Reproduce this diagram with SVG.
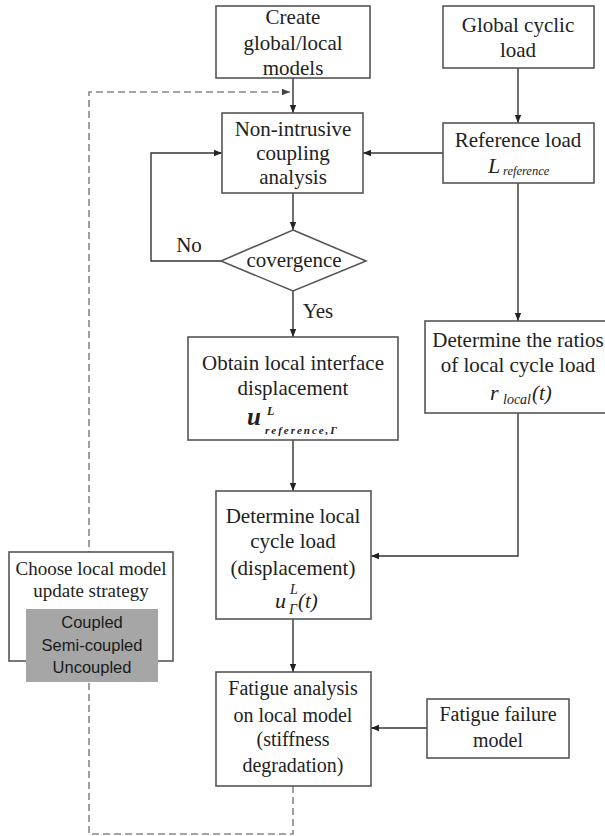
<svg xmlns="http://www.w3.org/2000/svg" width="605" height="836" viewBox="0 0 605 836">
<defs>
<marker id="ah" viewBox="0 0 10 10" refX="10" refY="5" markerWidth="8" markerHeight="8" markerUnits="userSpaceOnUse" orient="auto"><path d="M0,1 L10,5 L0,9 Z" fill="#222"/></marker>
<marker id="ahd" viewBox="0 0 10 10" refX="10" refY="5" markerWidth="8" markerHeight="8" markerUnits="userSpaceOnUse" orient="auto"><path d="M0,1 L10,5 L0,9 Z" fill="#444"/></marker>
<style>
.box{fill:#fff;stroke:#555;stroke-width:1.6}
.t{font-family:'Liberation Serif','Times New Roman',Tinos,'DejaVu Serif',serif;font-size:21px;fill:#222;text-anchor:middle}
.t2{font-family:'Liberation Serif','Times New Roman',Tinos,'DejaVu Serif',serif;font-size:20px;fill:#222;text-anchor:middle}
.it{font-family:'Liberation Serif','Times New Roman',Tinos,'DejaVu Serif',serif;font-style:italic;fill:#222}
.c{fill:none;stroke:#333;stroke-width:1.4}
.d{fill:none;stroke:#888;stroke-width:1.6;stroke-dasharray:7,4}
.g{font-family:'Liberation Sans',Arial,sans-serif;font-size:16.5px;fill:#1a1a1a;text-anchor:middle}
</style>
</defs>
<rect width="605" height="836" fill="#fff"/>
<g id="connectors">
<path class="d" d="M293,786 V834 H89 V92 H290" marker-end="url(#ahd)"/>
<path class="c" d="M293,78 V113" marker-end="url(#ah)"/>
<path class="c" d="M518,68 V123" marker-end="url(#ah)"/>
<path class="c" d="M443,153 H363" marker-end="url(#ah)"/>
<path class="c" d="M293,193 V230" marker-end="url(#ah)"/>
<path class="c" d="M221,261 H151 V153 H222" marker-end="url(#ah)"/>
<path class="c" d="M293,291 V337" marker-end="url(#ah)"/>
<path class="c" d="M518,183 V321" marker-end="url(#ah)"/>
<path class="c" d="M293,440 V491" marker-end="url(#ah)"/>
<path class="c" d="M518,413 V556 H371" marker-end="url(#ah)"/>
<path class="c" d="M293,619 V672" marker-end="url(#ah)"/>
<path class="c" d="M427,728 H371" marker-end="url(#ah)"/>
<text class="t" x="189" y="252">No</text>
<text class="t" x="318" y="318">Yes</text>
</g>
<g id="create">
<rect class="box" x="216" y="6" width="154" height="72"/>
<text class="t" x="293" y="24">Create</text>
<text class="t" x="293" y="50">global/local</text>
<text class="t" x="293" y="75">models</text>
</g>
<g id="global">
<rect class="box" x="443" y="6" width="151" height="62"/>
<text class="t" x="518" y="32">Global cyclic</text>
<text class="t" x="518" y="57">load</text>
</g>
<g id="reference">
<rect class="box" x="443" y="123" width="151" height="60"/>
<text class="t" x="518" y="147">Reference load</text>
<text class="it" x="488" y="173" font-size="22">L</text>
<text class="it" x="503" y="175" font-size="12.5">reference</text>
</g>
<g id="nonintrusive">
<rect class="box" x="222" y="113" width="141" height="80"/>
<text class="t" x="293" y="136">Non-intrusive</text>
<text class="t" x="293" y="160">coupling</text>
<text class="t" x="293" y="184">analysis</text>
</g>
<g id="convergence">
<polygon points="293,230 366,261 293,291 221,261" fill="#fff" stroke="#555" stroke-width="1.6"/>
<text class="t" x="294" y="267">covergence</text>
</g>
<g id="obtain">
<rect class="box" x="188" y="337" width="210" height="103"/>
<text class="t" x="293" y="370">Obtain local interface</text>
<text class="t" x="293" y="395">displacement</text>
<text class="it" x="247" y="425" font-size="25" font-weight="bold">u</text>
<text class="it" x="267" y="415" font-size="12" font-weight="bold">L</text>
<text class="it" x="265" y="434" font-size="11" font-weight="bold" textLength="72">reference,Γ</text>
</g>
<g id="ratios">
<rect class="box" x="425" y="321" width="186" height="92"/>
<text class="t" x="518" y="347">Determine the ratios</text>
<text class="t" x="518" y="372">of local cycle load</text>
<text class="it" x="490" y="400" font-size="22">r</text>
<text class="it" x="503" y="404" font-size="14">local</text>
<text class="it" x="532" y="400" font-size="21">(t)</text>
</g>
<g id="determine">
<rect class="box" x="216" y="491" width="155" height="128"/>
<text class="t" x="293" y="523">Determine local</text>
<text class="t" x="293" y="548">cycle load</text>
<text class="t" x="293" y="575">(displacement)</text>
<text class="it" x="275" y="608" font-size="22">u</text>
<text class="it" x="290" y="594" font-size="14">L</text>
<text class="it" x="289" y="614" font-size="14" font-style="normal">Γ</text>
<text class="it" x="298" y="608" font-size="21" font-style="normal">(<tspan font-style="italic">t</tspan>)</text>
</g>
<g id="choose">
<rect class="box" x="9" y="552" width="164" height="109"/>
<text class="t" x="91" y="575" style="font-size:19px">Choose local model</text>
<text class="t" x="91" y="597" style="font-size:19px">update strategy</text>
<rect x="26" y="609" width="132" height="73" fill="#a6a6a6"/>
<text class="g" x="92" y="628">Coupled</text>
<text class="g" x="92" y="651">Semi-coupled</text>
<text class="g" x="92" y="673">Uncoupled</text>
</g>
<g id="fatigue">
<rect class="box" x="216" y="672" width="155" height="114"/>
<text class="t2" x="293" y="695">Fatigue analysis</text>
<text class="t2" x="293" y="722">on local model</text>
<text class="t2" x="293" y="746">(stiffness</text>
<text class="t2" x="293" y="772">degradation)</text>
</g>
<g id="failure">
<rect class="box" x="427" y="699" width="142" height="59"/>
<text class="t2" x="498" y="721">Fatigue failure</text>
<text class="t2" x="498" y="747">model</text>
</g>
</svg>
